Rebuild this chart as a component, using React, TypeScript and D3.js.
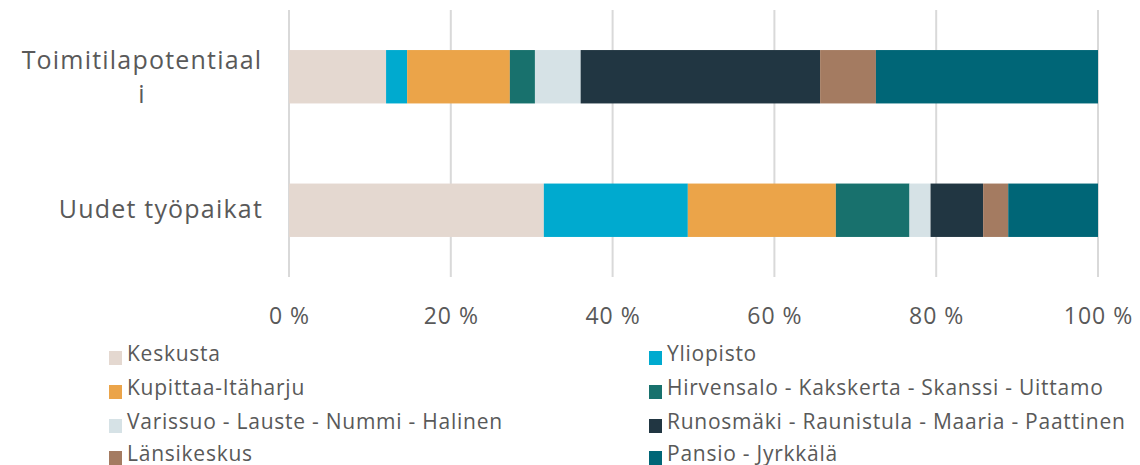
import React from "react";
import * as d3 from "d3";

const categories = ["Toimitilapotentiaali", "Uudet työpaikat"];
const seriesNames = [
  "Keskusta",
  "Yliopisto",
  "Kupittaa-Itäharju",
  "Hirvensalo - Kakskerta - Skanssi - Uittamo",
  "Varissuo - Lauste - Nummi - Halinen",
  "Runosmäki - Raunistula - Maaria - Paattinen",
  "Länsikeskus",
  "Pansio - Jyrkkälä",
];
const toimitilaValues = [12.0, 2.6, 12.7, 3.1, 5.65, 29.6, 6.9, 27.45];
const tyopaikatValues = [31.5, 17.8, 18.3, 9.1, 2.6, 6.5, 3.1, 11.1];
const seriesColors = [
  "#e4d8d0",
  "#00aacf",
  "#eba449",
  "#18716d",
  "#d6e2e6",
  "#213642",
  "#a47b61",
  "#006677",
];
const tickValues = [0, 20, 40, 60, 80, 100];

const FONT = "'Open Sans', sans-serif";
const TEXT = "#595959";

export default function App() {
  const W = 1140;
  const H = 465;
  const x = d3.scaleLinear().domain([0, 100]).range([289, 1098]);
  const y = d3
    .scaleBand<string>()
    .domain(categories)
    .range([10, 277])
    .paddingInner(0.6)
    .paddingOuter(0.3);

  const valuesByCat = [toimitilaValues, tyopaikatValues];
  const rows = categories.map((c, ci) => {
    const vals = valuesByCat[ci];
    const total = d3.sum(vals);
    let acc = 0;
    return vals.map((v, si) => {
      const start = (acc / total) * 100;
      acc += v;
      const end = (acc / total) * 100;
      return { c, si, start, end };
    });
  });

  const legendCols = [109, 649];
  const legendRowY = [361, 395, 429, 461];

  return (
    <svg
      width={W}
      height={H}
      style={{ position: "absolute", left: 0, top: 0, display: "block" }}
      fontFamily={FONT}
    >
      {tickValues.map((t) => (
        <line
          key={"g" + t}
          x1={x(t)}
          x2={x(t)}
          y1={10}
          y2={277}
          stroke="#d9d9d9"
          strokeWidth={2}
        />
      ))}
      {rows.map((segs, ci) =>
        segs.map((s) => (
          <rect
            key={ci + "-" + s.si}
            x={x(s.start)}
            y={y(s.c)}
            width={x(s.end) - x(s.start)}
            height={y.bandwidth()}
            fill={seriesColors[s.si]}
          />
        ))
      )}
      {tickValues.map((t) => (
        <text
          key={"t" + t}
          x={x(t) + 0.5}
          y={324}
          textAnchor="middle"
          fontSize={23}
          letterSpacing={1}
          fill={TEXT}
        >
          {t} %
        </text>
      ))}
      <g fontSize={25} letterSpacing={1.2} fill={TEXT}>
        <text x={142} y={69} textAnchor="middle">
          Toimitilapotentiaal
        </text>
        <text x={142} y={103} textAnchor="middle">
          i
        </text>
        <text
          x={263}
          y={(y(categories[1]) as number) + y.bandwidth() / 2 + 8}
          textAnchor="end"
        >
          {categories[1]}
        </text>
      </g>
      {seriesNames.map((n, i) => {
        const col = i % 2;
        const row = Math.floor(i / 2);
        const sx = legendCols[col];
        const by = legendRowY[row];
        return (
          <g key={"l" + i}>
            <rect x={sx} y={by - 10} width={13} height={14} fill={seriesColors[i]} />
            <text x={sx + 18} y={by} fontSize={21} letterSpacing={0.75} fill={TEXT}>
              {n}
            </text>
          </g>
        );
      })}
    </svg>
  );
}
